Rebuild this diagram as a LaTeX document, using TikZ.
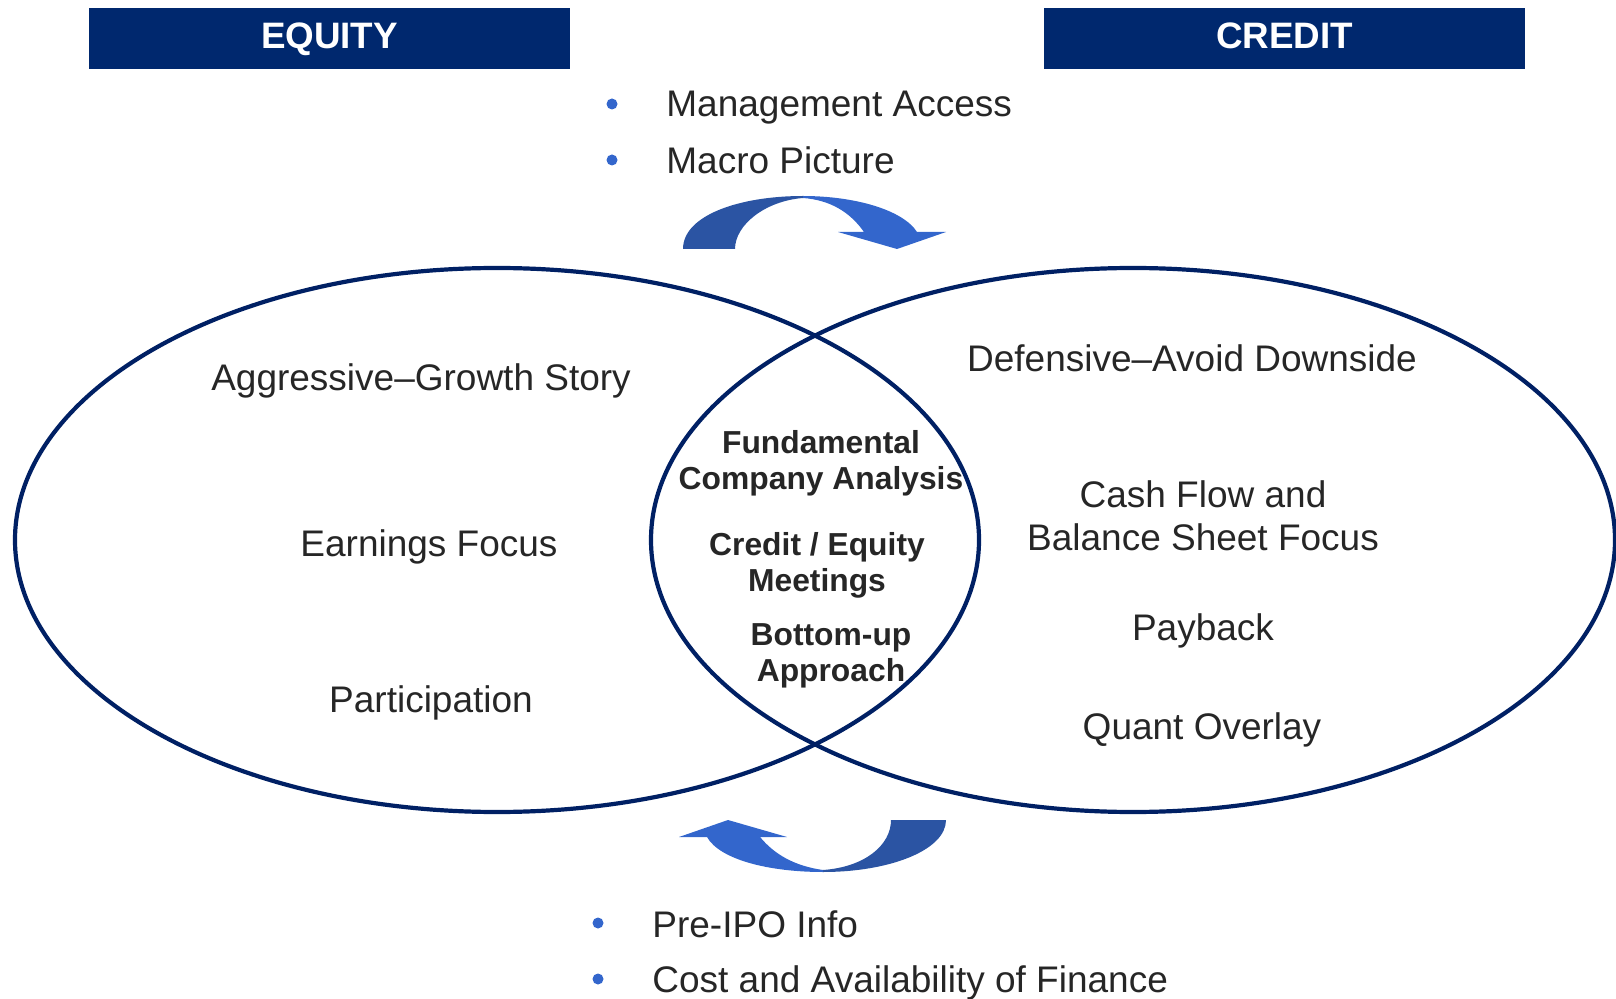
\documentclass[tikz,border=0pt]{standalone}
\usepackage{fontspec}
\setmainfont{Liberation Sans}
\usetikzlibrary{shapes.geometric}
\definecolor{navy}{RGB}{0,40,110}
\definecolor{ringc}{RGB}{0,32,100}
\definecolor{txt}{RGB}{38,38,38}
\definecolor{arrdark}{RGB}{43,84,163}
\definecolor{arrlight}{RGB}{51,102,204}
\definecolor{bulletc}{RGB}{51,102,204}
\tikzset{
  header/.style={fill=navy, text=white, font=\bfseries\fontsize{18.4}{22}\selectfont, minimum width=240.5pt, minimum height=30.5pt, inner sep=0pt, text height=13.2pt, text depth=3.5pt},
  ring/.style={draw=ringc, line width=2.1pt, ellipse, inner sep=0pt, minimum width=482pt, minimum height=272pt},
  plain/.style={text=txt, font=\fontsize{18.5}{21.5}\selectfont, align=center, inner sep=0pt},
  core/.style={text=txt, font=\bfseries\fontsize{15.9}{18}\selectfont, align=center, inner sep=0pt},
  bul/.style={fill=bulletc, circle, minimum size=5.5pt, inner sep=0pt},
  btxt/.style={text=txt, font=\fontsize{18.5}{21.5}\selectfont, anchor=west, inner sep=0pt},
}
\begin{document}
\begin{tikzpicture}[x=0.5pt,y=-0.5pt]
\useasboundingbox (0,0) rectangle (1616,999);
% headers
\node[header] (eq) at (329.5,38.5) {EQUITY};
\node[header] (cr) at (1284.5,38.5) {CREDIT};
% ellipses
\node[ring] (left) at (497,540) {};
\node[ring] (right) at (1133,540) {};
% top bullets
\node[bul] (b1) at (612,104) {};
\node[btxt] (t1) at (666,108) {Management Access};
\node[bul] (b2) at (612,160) {};
\node[btxt] (t2) at (666,160) {Macro Picture};
% bottom bullets
\node[bul] (b3) at (598,923) {};
\node[btxt] (t3) at (652,924) {Pre-IPO Info};
\node[bul] (b4) at (598,979) {};
\node[btxt] (t4) at (652,983) {Cost and Availability of Finance};
% left texts
\node[plain] (l1) at (421,381) {Aggressive–Growth Story};
\node[plain] (l2) at (429,547) {Earnings Focus};
\node[plain] (l3) at (431,703) {Participation};
% right texts
\node[plain] (r1) at (1192,358) {Defensive–Avoid Downside};
\node[plain] (r2) at (1203,515.5) {Cash Flow and\\Balance Sheet Focus};
\node[plain] (r3) at (1203,631) {Payback};
\node[plain] (r4) at (1202,730) {Quant Overlay};
% center texts
\node[core] (c1) at (821,463) {Fundamental\\Company Analysis};
\node[core] (c2) at (817,565.5) {Credit / Equity\\Meetings};
\node[core] (c3) at (831,656) {Bottom-up\\Approach};
% top curved arrow
\fill[arrdark] (683,249) .. controls (683,215) and (740,196) .. (803,196)
  -- (803,198) .. controls (765,201) and (735,225) .. (735,249) -- cycle;
\fill[arrlight] (803,196) .. controls (855,196) and (903,210) .. (917,232)
  -- (946,232) -- (897,249) -- (838,232) -- (864,232)
  .. controls (850,212) and (830,200) .. (803,198) -- cycle;
% bottom curved arrow
\fill[arrdark] (946,820) .. controls (946,850) and (890,872) .. (823,872)
  -- (823,870) .. controls (865,867) and (891,845) .. (891,820) -- cycle;
\fill[arrlight] (823,872) .. controls (770,872) and (720,860) .. (707,837)
  -- (679,837) -- (728,820) -- (787,837) -- (760,837)
  .. controls (775,855) and (795,866) .. (823,870) -- cycle;
\end{tikzpicture}
\end{document}
